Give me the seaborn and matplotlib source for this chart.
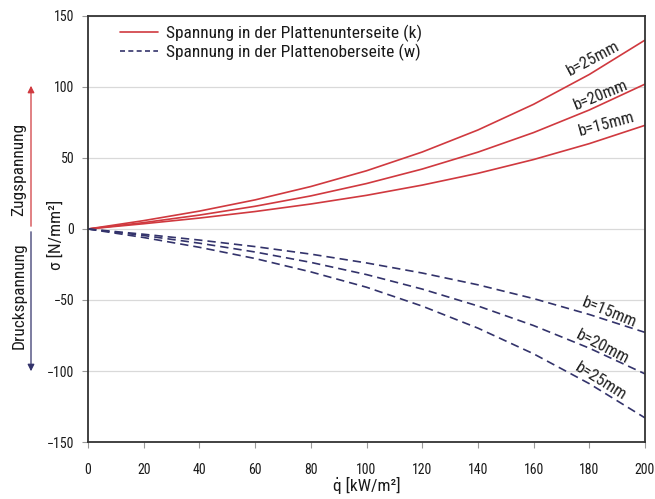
import matplotlib
matplotlib.use("Agg")
import matplotlib.pyplot as plt
import matplotlib.patches as mpatches
from matplotlib import font_manager
import seaborn as sns
import pandas as pd
from matplotlib.lines import Line2D

# ---- data ----
q = [0, 20, 40, 60, 80, 100, 120, 140, 160, 180, 200]
unten_b15 = [0, 3.7, 7.7, 12.3, 17.6, 23.7, 30.9, 39.2, 48.9, 60.1, 73.0]
unten_b20 = [0, 4.5, 9.8, 16.0, 23.3, 32.0, 42.2, 54.1, 67.9, 83.8, 102.0]
unten_b25 = [0, 5.9, 12.6, 20.5, 29.9, 41.0, 54.2, 69.7, 87.8, 108.8, 133.0]
oben_b15 = [0, -3.7, -7.8, -12.4, -17.7, -23.9, -31.0, -39.3, -49.0, -60.2, -72.8]
oben_b20 = [0, -4.6, -10.0, -16.2, -23.5, -32.1, -42.3, -54.2, -68.0, -83.9, -102.0]
oben_b25 = [0, -6.0, -12.9, -20.8, -30.2, -41.0, -54.3, -69.8, -87.9, -108.9, -133.0]
labels_b = ["b=15mm", "b=20mm", "b=25mm"]
legend_labels = ["Spannung in der Plattenunterseite (k)",
                 "Spannung in der Plattenoberseite (w)"]
x_ticks = [0, 20, 40, 60, 80, 100, 120, 140, 160, 180, 200]
y_ticks = [-150, -100, -50, 0, 50, 100, 150]

red = "#d0393f"
blue = "#33336b"

# pick a condensed family if one is installed
names = sorted({f.name for f in font_manager.fontManager.ttflist})
cond = [n for n in names if ("Narrow" in n or "Condensed" in n)]
pref = [n for n in ["Liberation Sans Narrow", "Roboto Condensed", "Open Sans Condensed",
                    "Noto Sans Condensed", "DejaVu Sans Condensed"] if n in names]
main = (pref or cond or ["Liberation Sans"])[0]
FONT = [main, "DejaVu Sans"]

sns.set_theme(style="white")
plt.rcParams["font.family"] = FONT

fig = plt.figure(figsize=(6.55, 4.99), dpi=100)
ax = fig.add_axes([0.1344, 0.1142, 0.8503, 0.8538])

rows = []
for name, vals in [("u15", unten_b15), ("u20", unten_b20), ("u25", unten_b25),
                   ("o15", oben_b15), ("o20", oben_b20), ("o25", oben_b25)]:
    for xv, yv in zip(q, vals):
        rows.append({"q": xv, "s": yv, "curve": name})
df = pd.DataFrame(rows)

for name in ["u15", "u20", "u25"]:
    sns.lineplot(data=df[df.curve == name], x="q", y="s", color=red, lw=1.2,
                 ax=ax, legend=False)
for name in ["o15", "o20", "o25"]:
    sns.lineplot(data=df[df.curve == name], x="q", y="s", color=blue, lw=1.2,
                 ax=ax, legend=False, linestyle=(0, (5, 3)))

ax.set_xlim(0, 200)
ax.set_ylim(-150, 150)
ax.set_xticks(x_ticks)
ax.set_yticks(y_ticks)
ax.yaxis.grid(True, color="#d9d9d9", lw=0.9)
ax.xaxis.grid(False)
ax.set_axisbelow(True)
for sp in ax.spines.values():
    sp.set_color("#333333")
    sp.set_linewidth(1.3)
ax.tick_params(axis="both", which="major", length=4, width=0.8, color="#999999",
               labelsize=10, labelcolor="#1a1a1a", pad=6, direction="out",
               bottom=True, left=True)
ax.tick_params(axis="x", pad=11)
for t in ax.get_xticklabels() + ax.get_yticklabels():
    t.set_family(FONT)

ax.set_xlabel("q\u0307 [kW/m²]", fontsize=12.5, family=FONT, color="#1a1a1a", labelpad=0)
ax.set_ylabel("σ [N/mm²]", fontsize=12.5, family=FONT, color="#1a1a1a")
ax.yaxis.set_label_coords(-0.043, 0.486)

handles = [Line2D([], [], color=red, lw=1.2),
           Line2D([], [], color=blue, lw=1.2, linestyle=(0, (3, 2)))]
leg = ax.legend(handles, legend_labels, loc="upper left", frameon=False,
                bbox_to_anchor=(0.038, 1.005), prop={"family": FONT, "size": 12.5},
                handlelength=2.2, handletextpad=0.5, labelspacing=0.12,
                borderaxespad=0.2)
for t in leg.get_texts():
    t.set_color("#1a1a1a")

# curve labels
lab_kw = dict(ha="center", va="center", fontsize=12, family=FONT, color="#222222")
ax.text(181.3, 120, labels_b[2], rotation=28, **lab_kw)
ax.text(184.2, 94.5, labels_b[1], rotation=22, **lab_kw)
ax.text(186.3, 73.5, labels_b[0], rotation=15, **lab_kw)
ax.text(187.0, -59.0, labels_b[0], rotation=-22, **lab_kw)
ax.text(184.9, -83.0, labels_b[1], rotation=-27, **lab_kw)
ax.text(184.2, -107.7, labels_b[2], rotation=-32, **lab_kw)

# side arrows and labels (figure pixel coords)
H = 499.0
W = 655.0
def fy(py):
    return 1 - py / H
fig.patches.append(mpatches.FancyArrowPatch(
    (31 / W, fy(229)), (31 / W, fy(83)), transform=fig.transFigure,
    arrowstyle="-|>,head_length=4,head_width=2", color=red, lw=0.9, mutation_scale=1))
fig.patches.append(mpatches.FancyArrowPatch(
    (31 / W, fy(229)), (31 / W, fy(374)), transform=fig.transFigure,
    arrowstyle="-|>,head_length=4,head_width=2", color=blue, lw=0.9, mutation_scale=1))
fig.text(19 / W, fy(169), "Zugspannung", rotation=90, ha="center", va="center",
         fontsize=12.5, family=FONT, color="#1a1a1a")
fig.text(19 / W, fy(296), "Druckspannung", rotation=90, ha="center", va="center",
         fontsize=12.5, family=FONT, color="#1a1a1a")

fig.savefig("out.png", dpi=100)
